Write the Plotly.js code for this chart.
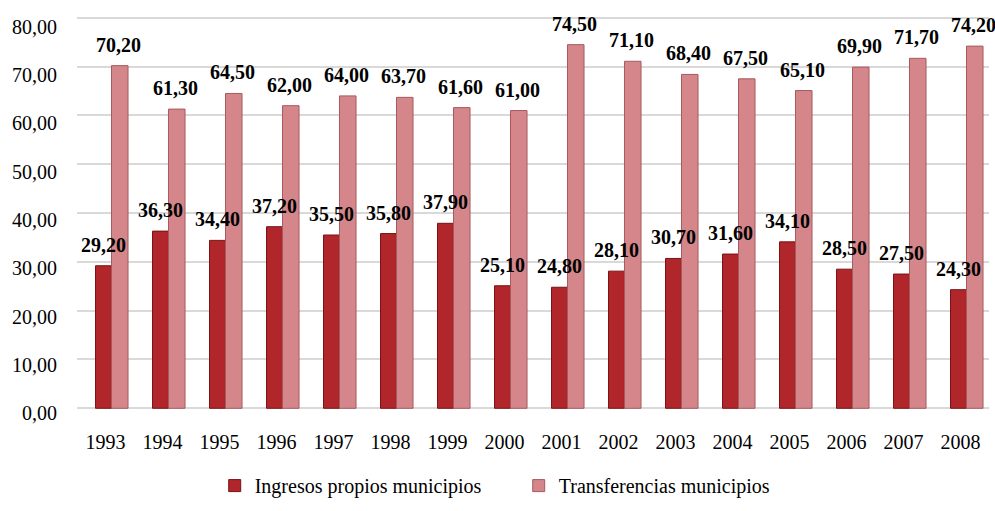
<!DOCTYPE html>
<html>
<head>
<meta charset="utf-8">
<script src="https://cdn.plot.ly/plotly-3.0.1.min.js"></script>
<style>html,body{margin:0;padding:0;background:#fff;}#chart{width:995px;height:511px;}</style>
</head>
<body>
<div id="chart"></div>
<script>
var years = ['1993','1994','1995','1996','1997','1998','1999','2000','2001','2002','2003','2004','2005','2006','2007','2008'];
var ingresosPropios = [29.2, 36.3, 34.4, 37.2, 35.5, 35.8, 37.9, 25.1, 24.8, 28.1, 30.7, 31.6, 34.1, 28.5, 27.5, 24.3];
var transferencias = [70.2, 61.3, 64.5, 62.0, 64.0, 63.7, 61.6, 61.0, 74.5, 71.1, 68.4, 67.5, 65.1, 69.9, 71.7, 74.2];
var seriesNames = ['Ingresos propios municipios', 'Transferencias municipios'];
var yTicks = [0, 10, 20, 30, 40, 50, 60, 70, 80];

var FONT = "'Liberation Serif', serif";
function fmt(v){ return v.toFixed(2).replace('.', ','); }

var traces = [
  {type: 'bar', name: seriesNames[0], x: years, y: ingresosPropios, width: 0.28, offset: -0.175,
    marker: {color: '#B0262A', line: {color: '#7A1214', width: 1}}},
  {type: 'bar', name: seriesNames[1], x: years, y: transferencias, width: 0.29, offset: 0.105,
    marker: {color: '#D4868A', line: {color: '#A65A5E', width: 1}}},
  {type: 'scatter', mode: 'none', x: [], y: [], xaxis: 'x', yaxis: 'y2', showlegend: false}
];

var annotations = [];
years.forEach(function(yr, i){
  annotations.push({x: i, y: ingresosPropios[i], xref: 'x', yref: 'y', text: '<b>' + fmt(ingresosPropios[i]) + '</b>',
    showarrow: false, xshift: -2, yshift: 21});
  annotations.push({x: i, y: transferencias[i], xref: 'x', yref: 'y', text: '<b>' + fmt(transferencias[i]) + '</b>',
    showarrow: false, xshift: 13, yshift: 21});
});

var layout = {
  width: 995, height: 511,
  margin: {l: 77, r: 6, t: 10, b: 81},
  separators: ',.',
  barmode: 'overlay',
  font: {family: FONT, size: 20, color: '#000'},
  xaxis: {type: 'category', range: [-0.5, 15.5], showgrid: false, zeroline: false, showline: false,
    ticks: '', ticklabelstandoff: 8, automargin: false},
  yaxis: {range: [-2.4, 81.6], tickvals: yTicks, showticklabels: false, showgrid: true,
    gridcolor: '#D9D9D9', gridwidth: 1.5, zeroline: false, showline: false, ticks: '', automargin: false},
  yaxis2: {overlaying: 'y', anchor: 'x', side: 'left', range: [-1.414, 83.43], tickvals: yTicks,
    tickformat: '.2f', showgrid: false, zeroline: false, showline: false, ticks: '',
    ticklabelstandoff: 19, automargin: false},
  legend: {orientation: 'h', x: 0.151, xanchor: 'left', y: -0.16, yanchor: 'middle',
    entrywidth: 259, entrywidthmode: 'pixels', traceorder: 'normal'},
  annotations: annotations
};

Plotly.newPlot('chart', traces, layout, {displayModeBar: false});
</script>
</body>
</html>
